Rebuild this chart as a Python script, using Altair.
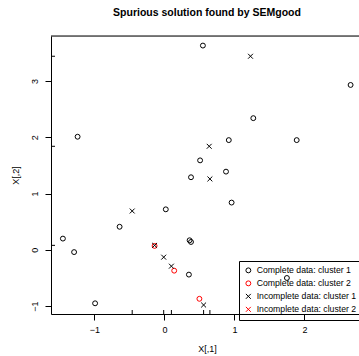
import altair as alt
import pandas as pd

# ---- data ----
c1_x = [0.55, 2.66, 1.27, 0.92, 1.89, 0.51, 0.88, 0.38, 0.96, 0.36, 0.38, 0.35, 1.75,
        -1.24, 0.02, -0.64, -1.45, -1.29, -0.99]
c1_y = [3.63, 2.93, 2.34, 1.95, 1.95, 1.59, 1.39, 1.29, 0.84, 0.17, 0.14, -0.44, -0.50,
        2.01, 0.72, 0.41, 0.20, -0.04, -0.95]
c2_x = [0.50, -0.14, 0.14]
c2_y = [-0.87, 0.07, -0.37]
i1_x = [1.23, 0.64, 0.65, -0.46, -0.14, -0.01, 0.10, 0.56]
i1_y = [3.44, 1.84, 1.26, 0.69, 0.08, -0.13, -0.29, -0.98]
i2_x = []
i2_y = []
rug_x = [-0.46, -0.01, 0.10, 0.56, 0.65]
rug_y = [3.44, 1.84, 0.08]

groups = ["Complete data: cluster 1", "Complete data: cluster 2",
          "Incomplete data: cluster 1", "Incomplete data: cluster 2"]
colors = ["#000000", "#ff0000", "#000000", "#ff0000"]
xshape = "M-1,-1L1,1M-1,1L1,-1"
shapes = ["circle", "circle", xshape, xshape]
x_ticks = [-1, 0, 1, 2]
y_ticks = [-1, 0, 1, 2, 3]

rows = []
for g, xv, yv in zip(groups, [c1_x, c2_x, i1_x, i2_x], [c1_y, c2_y, i1_y, i2_y]):
    for a, b in zip(xv, yv):
        rows.append({"x": a, "y": b, "g": g})
pts = pd.DataFrame(rows)
rx = pd.DataFrame({"rx": rug_x})
ry = pd.DataFrame({"ry": rug_y})

W, H = 308, 278
FONT = "Liberation Sans"
xs = alt.Scale(domain=[-1.62, 2.78], nice=False, zero=False)
ys = alt.Scale(domain=[-1.14, 3.80], nice=False, zero=False)

x_axis = alt.Axis(
    values=x_ticks, title="X[,1]", grid=False, tickSize=6, labelPadding=5,
    domainColor="black", tickColor="black", labelColor="black", titleColor="black",
    labelFont=FONT, labelFontSize=9, titleFont=FONT, titleFontSize=9, titleFontWeight="normal",
    titleX=156, titleY=34, titleBaseline="middle", titleAlign="center",
    labelFlush=False)
y_axis = alt.Axis(
    values=y_ticks, title="X[,2]", grid=False, tickSize=6, labelPadding=6,
    labelAngle=270, labelAlign="center", labelBaseline="bottom",
    domainColor="black", tickColor="black", labelColor="black", titleColor="black",
    labelFont=FONT, labelFontSize=9, titleFont=FONT, titleFontSize=9, titleFontWeight="normal",
    titleAngle=270, titleX=-36, titleY=139, titleBaseline="middle", titleAlign="center",
    labelFlush=False)

points = alt.Chart(pts).mark_point(filled=False, size=24, strokeWidth=1, opacity=1).encode(
    x=alt.X("x:Q", scale=xs, axis=x_axis),
    y=alt.Y("y:Q", scale=ys, axis=y_axis),
    color=alt.Color("g:N", scale=alt.Scale(domain=groups, range=colors), sort=groups, title=None,
                    legend=alt.Legend(orient="none", legendX=188, legendY=225, strokeColor="black",
                                      padding=5, labelFont=FONT, labelFontSize=8.7, labelColor="black",
                                      rowPadding=2, labelOffset=4, symbolSize=24,
                                      symbolStrokeWidth=1)),
    shape=alt.Shape("g:N", scale=alt.Scale(domain=groups, range=shapes), sort=groups, title=None),
)

rug_b = alt.Chart(rx).mark_rule(color="black", strokeWidth=1).encode(
    x=alt.X("rx:Q", scale=xs, axis=x_axis), y=alt.value(H), y2=alt.value(H - 4))
rug_l = alt.Chart(ry).mark_rule(color="black", strokeWidth=1).encode(
    y=alt.Y("ry:Q", scale=ys, axis=y_axis), x=alt.value(0), x2=alt.value(4))
top = alt.Chart(pd.DataFrame({"a": [0]})).mark_rule(color="black", strokeWidth=1).encode(
    x=alt.value(0), x2=alt.value(W), y=alt.value(0))

chart = alt.layer(points, rug_b, rug_l, top).properties(
    width=W, height=H,
    title=alt.Title("Spurious solution found by SEMgood", font=FONT, fontSize=10.5,
                    fontWeight="bold", color="black", anchor="middle", offset=17, dx=2),
    autosize=alt.AutoSizeParams(type="none"),
    padding={"left": 51, "top": 36, "right": 0, "bottom": 42},
).configure_view(stroke=None).configure(background="white")

chart.save("out.html", embed_options={"renderer": "svg", "actions": False})
